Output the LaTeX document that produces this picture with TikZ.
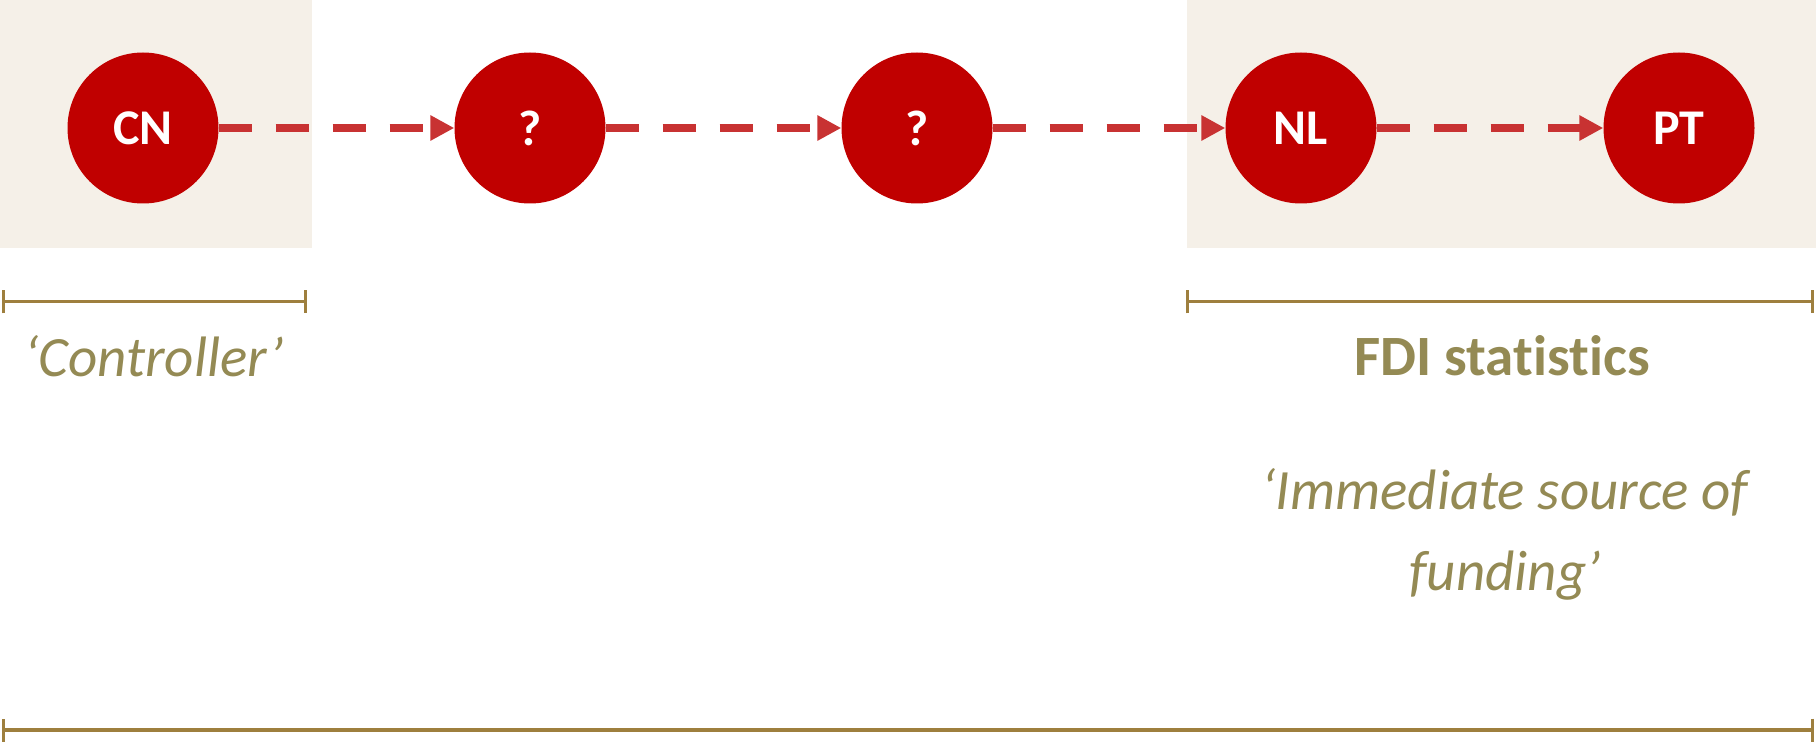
\documentclass[tikz,border=0pt]{standalone}
\usepackage{fontspec}
\setmainfont{Carlito}[Ligatures=NoCommon]
\usetikzlibrary{arrows.meta,positioning}
\definecolor{nodered}{RGB}{192,0,0}
\definecolor{flowred}{RGB}{200,50,50}
\definecolor{panel}{RGB}{245,240,232}
\definecolor{rulebrown}{RGB}{158,127,62}
\definecolor{labelolive}{RGB}{148,138,84}

\begin{document}
\begin{tikzpicture}[x=1pt,y=-1pt,
    entity/.style={circle,fill=nodered,text=white,minimum size=151pt,inner sep=0pt,
      font=\fontsize{50}{60}\selectfont\bfseries},
    flow/.style={flowred,line width=8pt,dash pattern=on 33pt off 24pt,
      -{Triangle[length=24pt,width=24pt]}},
    span/.style={rulebrown,line width=3pt,
      {Bar[width=23pt,line width=3pt]}-{Bar[width=23pt,line width=3pt]}},
    tag/.style={text=labelolive,font=\fontsize{57}{81}\selectfont\itshape,
      anchor=base,inner sep=0pt}]
          \useasboundingbox (0,0) rectangle (1816,743);
          \fill[panel] (0,0) rectangle (312,248);
          \fill[panel] (1187,0) rectangle (1816,248);
          % chain of ownership
          \node[entity] (cn) at (143,128) {CN};
          \node[entity] (mid1) at (530,128) {?};
          \node[entity] (mid2) at (917,128) {?};
          \node[entity] (nl) at (1301,128) {NL};
          \node[entity] (pt) at (1679,128) {PT};
          \draw[flow] (cn) -- (mid1);
          \draw[flow] (mid1) -- (mid2);
          \draw[flow] (mid2) -- (nl);
          \draw[flow] (nl) -- (pt);
          % spans
          \coordinate (ctrlL) at (2,302);
          \coordinate (ctrlR) at (307,302);
          \coordinate (fdiL) at (1186,302);
          \coordinate (fdiR) at (1814,302);
          \coordinate (allL) at (2,730);
          \coordinate (allR) at (1814,730);
          \draw[span] (ctrlL) -- (ctrlR);
          \draw[span] (fdiL) -- (fdiR);
          \draw[span,line width=4pt] (allL) -- (allR);
          \node[tag] (ctrl) at (154,377) {‘Controller’};
          \node[tag,font=\fontsize{57}{81}\selectfont\bfseries] (fdi) at (1502,376) {FDI statistics};
          \node[tag,align=center] (source) at (1505,590) {‘Immediate source of\\funding’};
        \end{tikzpicture}
\end{document}
